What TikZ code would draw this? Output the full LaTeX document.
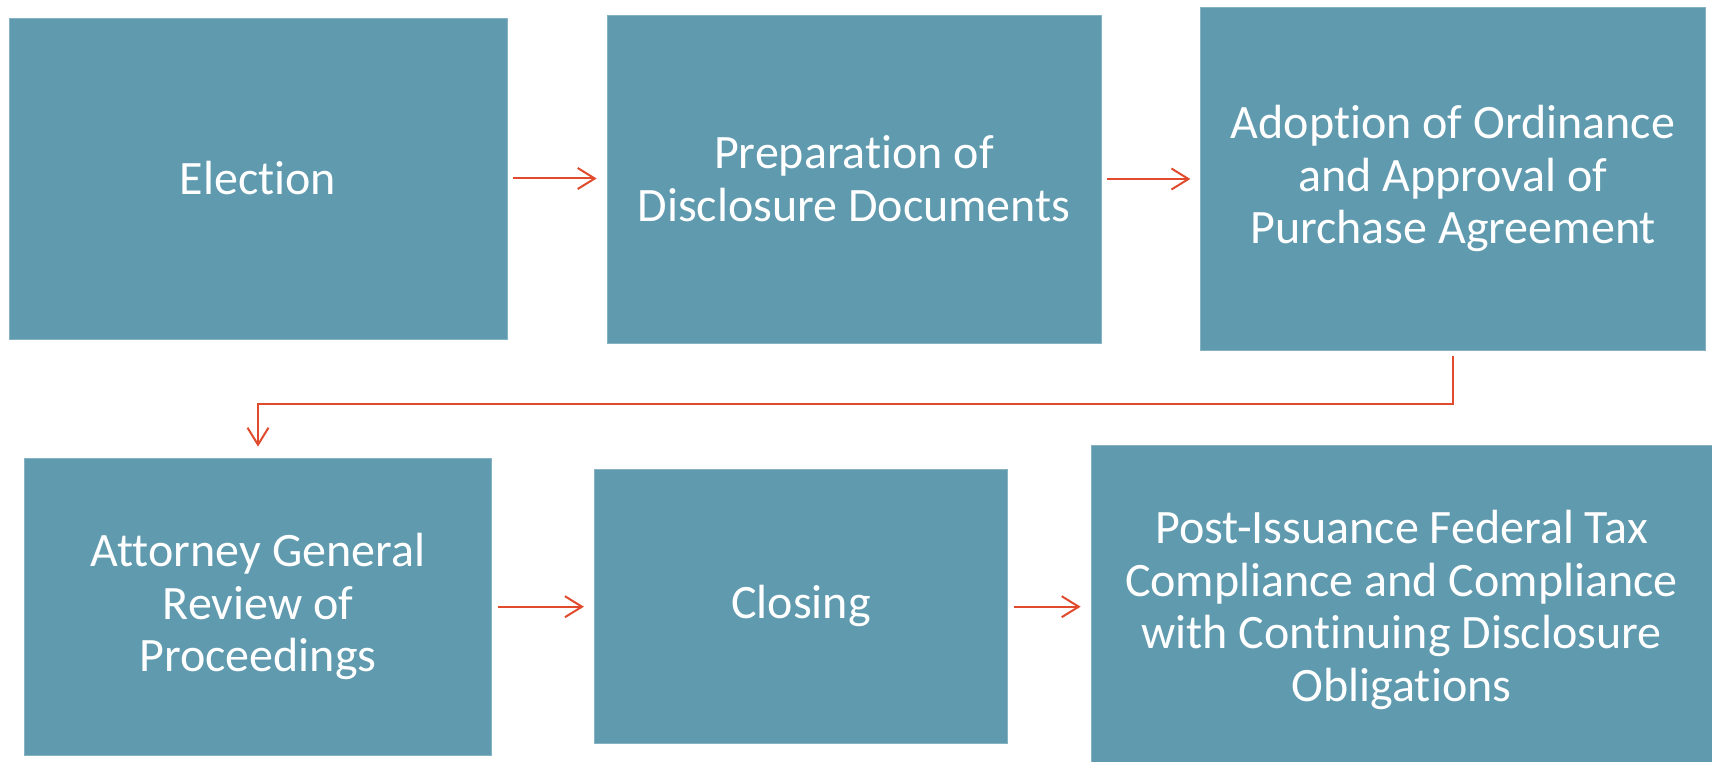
\documentclass[tikz,border=0pt]{standalone}
\usepackage{fontspec}
\setmainfont[Ligatures={NoCommon,NoContextual},RawFeature={-liga,-clig,-calt,-dlig}]{Carlito}
\usetikzlibrary{arrows.meta}
\definecolor{stepfill}{HTML}{5F9AAE}
\definecolor{stepedge}{HTML}{86B3C3}
\definecolor{flowred}{HTML}{E04B2E}
% keep "t" and "i" as separate glyphs
\newcommand\tiSep{t\kern0pt i}
\begin{document}
\begin{tikzpicture}[x=1pt,y=-1pt,
  stepbox/.style={rectangle, fill=stepfill, draw=stepedge, line width=0.8pt,
    text=white, align=center, inner sep=0pt,
    font=\fontsize{48}{52.7}\selectfont},
  conn/.style={draw=flowred, line width=2pt,
    -{Straight Barb[length=17pt,width=21pt,line width=2pt]},
    shorten <=5.5pt, shorten >=10pt}]
\useasboundingbox[fill=white] (0,0) rectangle (1712,762);

% top row
\node[stepbox, minimum width=498pt, minimum height=321pt] (elect) at (258,178.5) {Elec\tiSep on};
\node[stepbox, minimum width=494pt, minimum height=328pt] (prep) at (854,179) {Prepara\tiSep on of\\Disclosure Documents};
\node[stepbox, minimum width=504.5pt, minimum height=343pt] (adopt) at (1453,178.5) {Adop\tiSep on of Ordinance\\and Approval of\\Purchase Agreement};

% bottom row
\node[stepbox, minimum width=467.5pt, minimum height=297pt] (agr) at (258,606.5) {Attorney General\\Review of\\Proceedings};
\node[stepbox, minimum width=413.5pt, minimum height=274pt] (close) at (801,606) {Closing};
\node[stepbox, minimum width=621pt, minimum height=317pt] (post) at (1401.5,603.5) {\rule{0pt}{46pt}Post-Issuance Federal Tax\\Compliance and Compliance\\with Con\tiSep nuing Disclosure\\Obliga\tiSep ons};

% connectors
\coordinate (turn) at (850,404);
\draw[conn] (elect.east) -- (elect.east -| prep.west);
\draw[conn] (prep.east) -- (prep.east -| adopt.west);
\draw[conn, shorten <=6pt, shorten >=11pt] (adopt.south) |- (turn) -| (agr.north);
\draw[conn] ([yshift=-0.2pt]agr.east) -- ([yshift=-0.2pt]agr.east -| close.west);
\draw[conn] ([yshift=-0.7pt]close.east) -- ([yshift=-0.7pt]close.east -| post.west);
\end{tikzpicture}
\end{document}
